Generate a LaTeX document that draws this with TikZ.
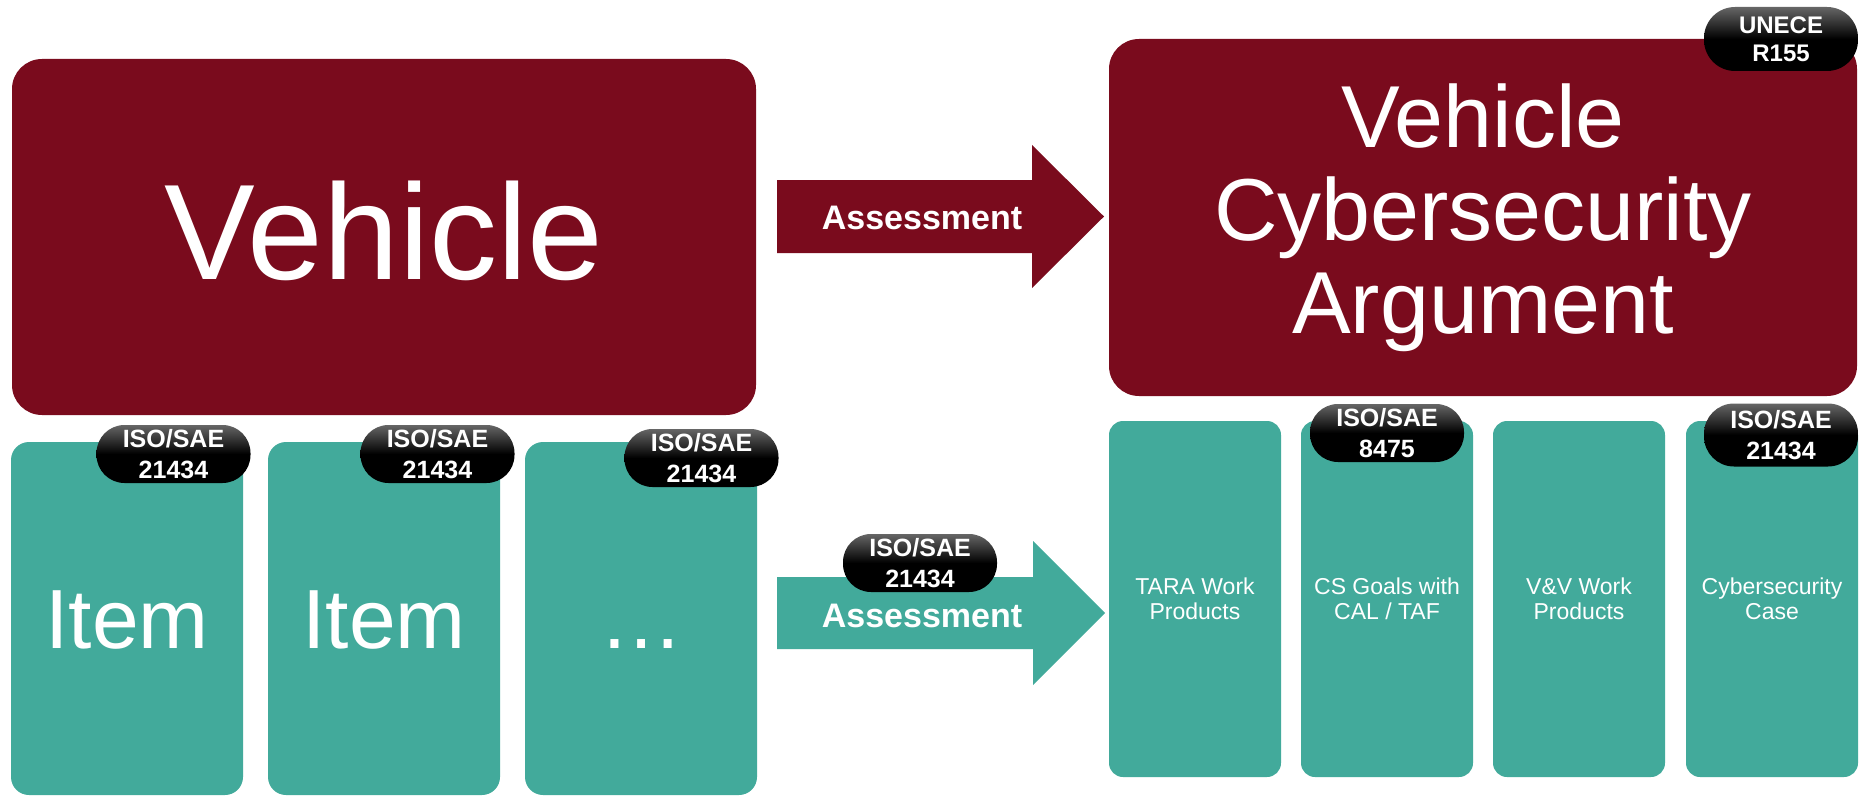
\documentclass[tikz,border=0pt]{standalone}
\usepackage{fontspec}
\setmainfont{Liberation Sans}
\usetikzlibrary{positioning}

\definecolor{wine}{RGB}{122,11,29}
\definecolor{csteal}{RGB}{66,170,155}

\tikzset{
  bigbox/.style={fill=wine, rounded corners=30pt, text=white, align=center, inner sep=0pt},
  itembox/.style={fill=csteal, rounded corners=18pt, minimum width=232pt, minimum height=353pt,
    inner sep=0pt, text=white, text height=60pt, text depth=0pt, font=\fontsize{84}{90}\selectfont},
  wpbox/.style={fill=csteal, rounded corners=14pt, minimum width=172pt, minimum height=356pt,
    inner sep=0pt, text=white, align=center, font=\fontsize{23}{25}\selectfont},
  badge/.style={rounded corners=28pt, minimum width=154pt, minimum height=58pt,
    top color=black!60, bottom color=black, middle color=black,
    inner sep=0pt, text=white, align=center, font=\bfseries\fontsize{25}{31}\selectfont},
  arrowtext/.style={text=white, inner sep=0pt, font=\bfseries\fontsize{34}{40}\selectfont},
}

\begin{document}
\begin{tikzpicture}[x=1pt,y=-1pt]
\useasboundingbox (0,0) rectangle (1860,797);

% assessment arrows
\fill[wine] (777,180) -- (1032,180) -- (1032,145) -- (1104,216.5) -- (1032,288) -- (1032,253) -- (777,253) -- cycle;
\node[arrowtext] (assessTop) at (922,218) {Assessment};

\fill[csteal] (777,577) -- (1033,577) -- (1033,541) -- (1105,613) -- (1033,685) -- (1033,649) -- (777,649) -- cycle;
\node[arrowtext] (assessBottom) at (922,615.5) {Assessment};

% vehicle level
\node[bigbox, minimum width=744pt, minimum height=356pt, text depth=14pt,
  font=\fontsize{136}{150}\selectfont] (vehicle) at (384,237) {Vehicle};
\node[bigbox, minimum width=748pt, minimum height=357pt, font=\fontsize{88}{93}\selectfont]
  (argument) at (1483,217.5) {Vehicle\\Cybersecurity\\Argument};

% item level
\foreach \x/\txt [count=\i] in {127/Item, 384/Item, 641/…}{
  \node[itembox] (item\i) at (\x,618.5) {\txt};
}

% work products
\foreach \x/\txt [count=\i] in {1195/{TARA Work\\Products}, 1387/{CS Goals with\\CAL / TAF},
    1579/{V\&V Work\\Products}, 1772/{Cybersecurity\\Case}}{
  \node[wpbox] (wp\i) at (\x,599) {\txt};
}

% standard badges
\node[badge] (isoItemA) at (173.5,454) {ISO/SAE\\21434};
\node[badge] (isoItemB) at (437.5,454) {ISO/SAE\\21434};
\node[badge] (isoItemC) at (701.5,458) {ISO/SAE\\21434};
\node[badge] (isoAssess) at (920,563) {ISO/SAE\\21434};
\node[badge, minimum height=64pt, rounded corners=31pt, font=\bfseries\fontsize{24}{28}\selectfont]
  (unece) at (1781,39) {UNECE\\R155};
\node[badge] (isoGoals) at (1387,433) {ISO/SAE\\8475};
\node[badge, minimum height=63pt, rounded corners=30pt] (isoCase) at (1781,435) {ISO/SAE\\21434};

\end{tikzpicture}
\end{document}
